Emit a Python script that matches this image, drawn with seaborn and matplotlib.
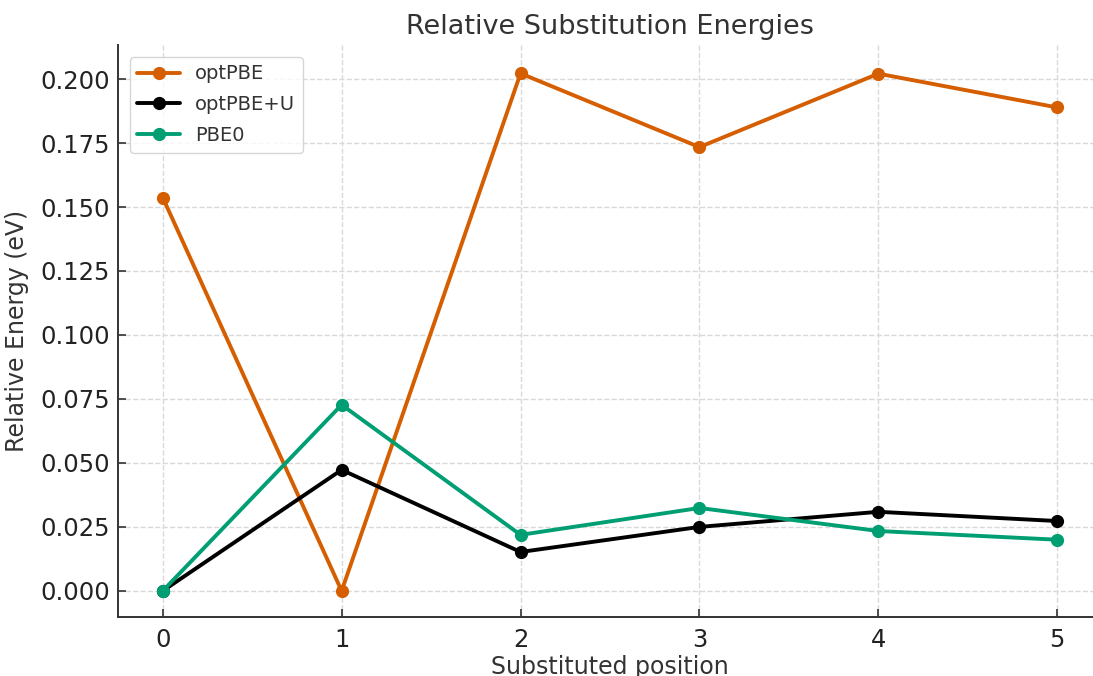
import matplotlib
matplotlib.use("Agg")
import matplotlib.pyplot as plt
import seaborn as sns
import pandas as pd

positions = [0, 1, 2, 3, 4, 5]
optpbe = [0.1537, 0.0, 0.2022, 0.1734, 0.2021, 0.1889]
optpbe_u = [0.0, 0.0473, 0.0152, 0.0250, 0.0309, 0.0273]
pbe0 = [0.0, 0.0727, 0.0219, 0.0324, 0.0234, 0.0200]
series_names = ["optPBE", "optPBE+U", "PBE0"]
colors = ["#D55E00", "#000000", "#009E73"]

df = pd.DataFrame({"position": positions * 3,
                   "energy": optpbe + optpbe_u + pbe0,
                   "method": sum([[n] * len(positions) for n in series_names], [])})

sns.set_style("whitegrid", {"grid.linestyle": "--", "grid.color": "#d9d9d9",
                            "axes.edgecolor": "#333333", "xtick.direction": "in",
                            "ytick.direction": "in"})
plt.rcParams["font.family"] = ["DejaVu Sans"]
plt.rcParams["text.color"] = "#333333"
plt.rcParams["axes.labelcolor"] = "#333333"

fig = plt.figure(figsize=(10.93, 6.76), dpi=100)
ax = fig.add_axes([118/1093, 1-617/676, 984/1093, (617-45)/676])
sns.lineplot(data=df, x="position", y="energy", hue="method", palette=colors,
             marker="o", markersize=9.5, markeredgewidth=0, linewidth=2.8, ax=ax)
ax.set_xlim(-0.25, 5.25)
ax.set_ylim(-0.0102, 0.2133)
ax.set_xticks(positions)
ax.set_yticks([0, 0.025, 0.05, 0.075, 0.1, 0.125, 0.15, 0.175, 0.2])
ax.set_yticklabels([f"{v:.3f}" for v in ax.get_yticks()])
ax.tick_params(axis="both", labelsize=17.5, colors="#333333", length=6, width=1.2,
               labelcolor="#222222", direction="in", left=True, bottom=True, pad=6)
ax.tick_params(axis="x", pad=8)
for s in ["top", "right"]:
    ax.spines[s].set_visible(False)
for s in ["left", "bottom"]:
    ax.spines[s].set_linewidth(1.4)
ax.grid(True, linestyle="--", color="#d9d9d9", linewidth=1)
ax.set_title("Relative Substitution Energies", fontsize=19.5, color="#333333", pad=8)
ax.set_xlabel("Substituted position", fontsize=17, labelpad=2)
ax.set_ylabel("Relative Energy (eV)", fontsize=17, labelpad=8)
leg = ax.legend(title=None, loc="upper left", fontsize=14, frameon=True,
                borderaxespad=0.6, handlelength=2.2, handletextpad=0.75,
                labelspacing=0.6)
for t in leg.get_texts():
    t.set_color("#333333")
fig.savefig("out.png", dpi=100)
